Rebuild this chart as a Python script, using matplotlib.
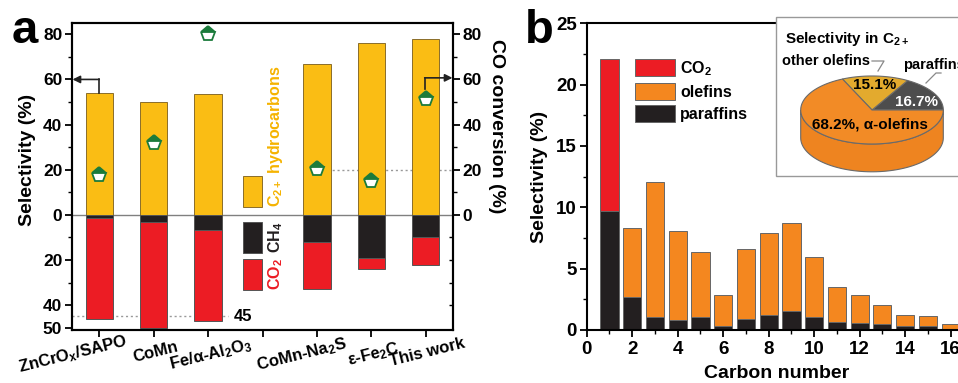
import numpy as np
import matplotlib
matplotlib.use("Agg")
import matplotlib.pyplot as plt
from matplotlib.patches import Rectangle, Polygon
from matplotlib.lines import Line2D
from matplotlib.transforms import ScaledTranslation
from matplotlib.ticker import FixedLocator, FuncFormatter, MultipleLocator

plt.rcParams['font.family'] = ['Liberation Sans', 'DejaVu Sans']
plt.rcParams['font.weight'] = 'bold'
plt.rcParams['mathtext.fontset'] = 'custom'
plt.rcParams['mathtext.rm'] = 'Liberation Sans:bold'
plt.rcParams['mathtext.bf'] = 'Liberation Sans:bold'
plt.rcParams['mathtext.it'] = 'Liberation Sans:bold:italic'
plt.rcParams['axes.linewidth'] = 1.5

# ---------------- data: panel a ----------------
catalysts = ["ZnCrO$_\\mathrm{x}$/SAPO", "CoMn", "Fe/α-Al$_\\mathrm{2}$O$_\\mathrm{3}$", "",
             "CoMn-Na$_\\mathrm{2}$S", "ε-Fe$_\\mathrm{2}$C", "This work"]
c2plus = [54.0, 50.0, 53.5, np.nan, 67.0, 76.0, 78.0]
ch4 = [1.5, 3.1, 6.8, np.nan, 12.1, 19.3, 9.8]
co2 = [44.8, 46.9, 40.2, np.nan, 20.9, 4.8, 12.4]
co_conv = [17.6, 31.7, 80.2, np.nan, 20.3, 15.0, 51.4]
ylab_a = [-50, -40, -20, 0, 20, 40, 60, 80]

# ---------------- data: panel b ----------------
carbon = list(range(1, 17))
co2_b = [12.4] + [0.0] * 15
paraffins_b = [9.7, 2.66, 1.06, 0.79, 1.06, 0.35, 0.92, 1.25, 1.52, 1.09, 0.65, 0.57, 0.49, 0.33, 0.33, 0.12]
olefins_b = [0.0, 5.68, 11.0, 7.31, 5.27, 2.5, 5.71, 6.65, 7.2, 4.89, 2.88, 2.28, 1.55, 0.89, 0.78, 0.37]
pie_labels = ["paraffins", "other olefins", "α-olefins"]
pie_values = [16.7, 15.1, 68.2]

YEL = '#FABD14'
RED = '#EC1C24'
BLK = '#231F20'
GRN = '#1B7B3B'
ORG = '#F4871F'

W, H = 958, 383
fig = plt.figure(figsize=(W / 100, H / 100), dpi=100)

def fx(x):
    return x / W

def fy(y):
    return 1 - y / H

# ================= panel a =================
ax = fig.add_axes([fx(72), fy(330), fx(453) - fx(72), fy(23) - fy(330)])
x = np.arange(len(catalysts))
c2 = np.array(c2plus); m4 = np.array(ch4); o2 = np.array(co2)
ax.bar(x, c2, width=0.5, color=YEL, edgecolor='#8a6d2a', linewidth=0.7, zorder=2)
ax.bar(x, -m4, width=0.5, color=BLK, edgecolor='#555555', linewidth=0.7, zorder=2)
ax.bar(x, -o2, bottom=-m4, width=0.5, color=RED, edgecolor='#555555', linewidth=0.7, zorder=2)
ax.axhline(0, color='#808080', lw=1.0, zorder=1)
ax.set_xlim(-0.5, 6.5)
ax.set_ylim(-51, 85)
ax.yaxis.set_major_locator(FixedLocator(ylab_a))
ax.yaxis.set_minor_locator(FixedLocator([-30, -10, 10, 30, 50, 70]))
ax.yaxis.set_major_formatter(FuncFormatter(lambda v, p: f"{abs(int(round(v)))}"))
ax.set_xticks(x)
ax.set_xticklabels(catalysts, rotation=14, ha='center', va='top', rotation_mode='anchor', fontsize=12)
ax.tick_params(axis='y', which='major', length=5, width=1.3, labelsize=12.5, pad=2, direction='out')
ax.tick_params(axis='y', which='minor', length=3, width=1.0, direction='out')
ax.tick_params(axis='x', which='major', length=5, width=1.3, pad=6, direction='out')
labs = ax.get_xticklabels()
offs = {0: -29, 4: -18}
for i, lab in enumerate(labs):
    dx = offs.get(i, 0)
    lab.set_transform(lab.get_transform() + ScaledTranslation(dx / 100, 0, fig.dpi_scale_trans))

# right axis: CO conversion
ax2 = ax.twinx()
ax2.set_ylim(ax.get_ylim())
ax2.plot(x, co_conv, ls='none', marker='p', markersize=11, fillstyle='top',
         markerfacecolor=GRN, markerfacecoloralt='white', markeredgecolor=GRN,
         markeredgewidth=1.3, zorder=5)
ax2.yaxis.set_major_locator(FixedLocator([0, 20, 40, 60, 80]))
ax2.yaxis.set_minor_locator(FixedLocator([10, 30, 50, 70]))
ax2.tick_params(axis='y', which='major', length=5, width=1.3, labelsize=12.5, pad=2)
ax2.tick_params(axis='y', which='minor', length=3, width=1.0)
ax3 = ax.twinx()
ax3.set_ylim(ax.get_ylim())
ax3.yaxis.set_major_locator(FixedLocator([-40, -30, -20, -10]))
ax3.tick_params(axis='y', which='major', length=3, width=1.0, direction='in', labelright=False)
for s in ax3.spines.values():
    s.set_visible(False)

# arrows
ax.plot([0, 0], [c2plus[0], 60], color='#222222', lw=1.2, zorder=4)
ax.annotate('', xy=(-0.49, 60), xytext=(0, 60),
            arrowprops=dict(arrowstyle='-|>', color='#222222', lw=1.2, mutation_scale=11, shrinkA=0, shrinkB=0))
ax.plot([5.98, 5.98], [co_conv[6] + 4.5, 60.7], color='#222222', lw=1.2, zorder=4)
ax.annotate('', xy=(6.49, 60.7), xytext=(5.98, 60.7),
            arrowprops=dict(arrowstyle='-|>', color='#222222', lw=1.2, mutation_scale=11, shrinkA=0, shrinkB=0))

# dotted guide lines
ax.plot([-0.5, 2.37], [-45, -45], ls=(0, (1.5, 2)), color='#999999', lw=1.0, zorder=1)
ax.text(2.48, -45, '45', ha='left', va='center', fontsize=12)
ax.plot([3.74, 6.5], [20, 20], ls=(0, (1.5, 2)), color='#999999', lw=1.0, zorder=1)

# in-plot legend
ax.add_patch(Rectangle((2.64, 3.6), 0.35, 13.7, facecolor=YEL, edgecolor='#8a6d2a', lw=0.7, zorder=3))
ax.add_patch(Rectangle((2.64, -16.9), 0.35, 13.8, facecolor=BLK, edgecolor='#555555', lw=0.7, zorder=3))
ax.add_patch(Rectangle((2.64, -33.5), 0.35, 13.8, facecolor=RED, edgecolor='#555555', lw=0.7, zorder=3))
ax.text(3.24, 3.4, 'C$_\\mathrm{2+}$ hydrocarbons', rotation=90, ha='center', va='bottom',
        color='#F5B300', fontsize=11.5)
ax.text(3.24, -9.8, 'CH$_\\mathrm{4}$', rotation=90, ha='center', va='center', color=BLK, fontsize=11.5)
ax.text(3.24, -26.0, 'CO$_\\mathrm{2}$', rotation=90, ha='center', va='center', color=RED, fontsize=11.5)

fig.text(fx(27), fy(160), 'Selectivity (%)', rotation=90, ha='center', va='center', fontsize=14)
fig.text(fx(497), fy(126), 'CO conversion (%)', rotation=270, ha='center', va='center', fontsize=14)
fig.text(fx(12), fy(43), 'a', fontsize=34, fontweight='bold', ha='left', va='baseline')

# ================= panel b =================
bx = fig.add_axes([fx(586.7), fy(330), fx(962) - fx(586.7), fy(23.3) - fy(330)])
cb = np.array(carbon)
par = np.array(paraffins_b); ole = np.array(olefins_b); cco2 = np.array(co2_b)
bp = bx.bar(cb, par, width=0.8, color=BLK, edgecolor='#666666', linewidth=0.7, label='paraffins', zorder=2)
bo = bx.bar(cb, ole, bottom=par, width=0.8, color=ORG, edgecolor='#666666', linewidth=0.7, label='olefins', zorder=2)
mask = cco2 > 0
bc = bx.bar(cb[mask], cco2[mask], bottom=(par + ole)[mask], width=0.8, color=RED, edgecolor='#666666',
            linewidth=0.7, label='CO$_\\mathrm{2}$', zorder=2)
bx.set_xlim(0, 16.5)
bx.set_ylim(0, 25)
bx.xaxis.set_major_locator(MultipleLocator(2))
bx.xaxis.set_minor_locator(MultipleLocator(1))
bx.yaxis.set_major_locator(MultipleLocator(5))
bx.yaxis.set_minor_locator(MultipleLocator(2.5))
bx.tick_params(which='major', length=5, width=1.3, labelsize=13.5, pad=2)
bx.tick_params(which='minor', length=3, width=1.0)
bx.tick_params(axis='x', pad=3)
bx.spines['right'].set_visible(False)
leg = bx.legend(handles=[bc, bo, bp], loc='upper left', bbox_to_anchor=(0.1, 0.92),
                frameon=False, fontsize=11.5, handlelength=2.45, handleheight=1.3,
                labelspacing=0.3, handletextpad=0.35, borderpad=0.2)
for h in leg.legend_handles:
    h.set_edgecolor('#666666')

fig.text(fx(540), fy(177), 'Selectivity (%)', rotation=90, ha='center', va='center', fontsize=14)
fig.text(fx(776.7), fy(373), 'Carbon number', ha='center', va='center', fontsize=14)
fig.text(fx(525), fy(43), 'b', fontsize=34, fontweight='bold', ha='left', va='baseline')

# inset box
bx.add_patch(Rectangle((0.504, 0.502), 0.6, 0.52, transform=bx.transAxes, facecolor='white',
                       edgecolor='#999999', lw=1.0, clip_on=False, zorder=3))

# pie (pseudo-3D)
pa = fig.add_axes([fx(790), fy(176), fx(954) - fx(790), fy(70) - fy(176)])
pa.set_xlim(-1.15, 1.15)
pa.set_ylim(-0.926, 0.561)
pa.axis('off')
pa.set_zorder(10)
ry = 0.477
th = 0.39

def ell(t0, t1, dy=0.0, n=80):
    t = np.radians(np.linspace(t0, t1, n))
    return np.column_stack([np.cos(t), ry * np.sin(t) + dy])

side = np.vstack([ell(180, 360), ell(360, 180, -th)])
pa.add_patch(Polygon(side, closed=True, facecolor='#EE8420', edgecolor='#6a6a6a', lw=0.8))
cols = ['#4d4d4d', '#E3AA2E', '#F28B26']
fr = np.array(pie_values) / np.sum(pie_values)
ang = np.concatenate([[0], np.cumsum(fr) * 360])
for i in range(len(pie_values)):
    pts = np.vstack([[0, 0], ell(ang[i], ang[i + 1])])
    pa.add_patch(Polygon(pts, closed=True, facecolor=cols[i], edgecolor='#6a6a6a', lw=0.8))
mid = np.radians((ang[:-1] + ang[1:]) / 2)
pa.text(0.62, 0.11, f"{pie_values[0]}%", color='white', ha='center', va='center', fontsize=11)
pa.text(0.75 * np.cos(mid[1]), 0.75 * ry * np.sin(mid[1]), f"{pie_values[1]}%", color='black',
        ha='center', va='center', fontsize=11)
pa.text(-0.03, -0.2, f"{pie_values[2]}%, {pie_labels[2]}", color='black', ha='center', va='center', fontsize=11)

fig.text(fx(785), fy(39), 'Selectivity in C$_\\mathrm{2+}$', ha='left', va='center', fontsize=11, zorder=12)
fig.text(fx(870), fy(61), pie_labels[1], ha='right', va='center', fontsize=10.5, zorder=12)
fig.text(fx(903), fy(65), pie_labels[0], ha='left', va='center', fontsize=10.5, zorder=12)
for xs, ys in [([872, 884, 878], [61, 61, 71]), ([941, 936, 926], [73, 73, 83])]:
    fig.add_artist(Line2D([fx(v) for v in xs], [fy(v) for v in ys], color='#888888', lw=0.9, zorder=12))

fig.savefig('out.png', dpi=100)
